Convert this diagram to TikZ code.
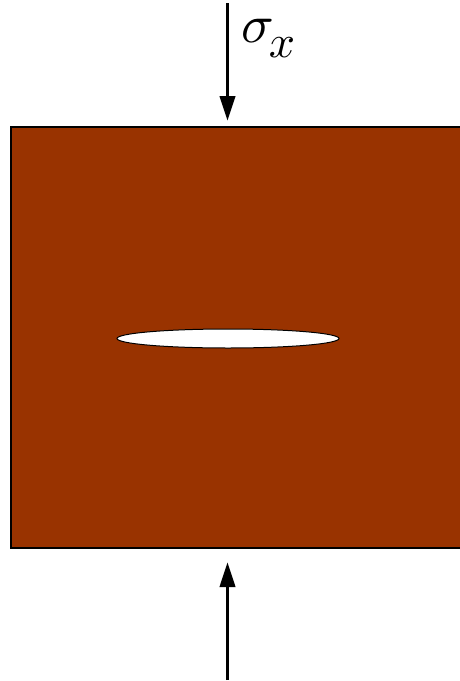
\documentclass[tikz,border=0pt]{standalone}
\usetikzlibrary{arrows.meta}
\definecolor{plate}{RGB}{153,51,0}
\begin{document}
\begin{tikzpicture}[x=1pt,y=-1pt,
  load/.style={line width=3.8pt,-{Triangle[length=25pt,width=15pt]}},
  slab/.style={draw=black,line width=2pt,fill=plate},
  crack/.style={draw=black,line width=1pt,fill=white}]
\useasboundingbox (0,0) rectangle (459,681);
\draw[slab] (11,127) rectangle (462,548);
\draw[crack] (228,338.5) ellipse [x radius=111, y radius=9.5];
\coordinate (ttail) at (227.5,3);
\coordinate (ttip) at (227.5,121);
\coordinate (btail) at (227.5,680);
\coordinate (btip) at (227.5,562);
\draw[load] (ttail) -- (ttip);
\draw[load] (btail) -- (btip);
\node[anchor=base west,inner sep=0pt,scale=5.4] (sig) at (240,42) {$\sigma$};
\node[anchor=base west,inner sep=0pt,scale=4.6] (sub) at (268,57) {$x$};
\end{tikzpicture}
\end{document}
